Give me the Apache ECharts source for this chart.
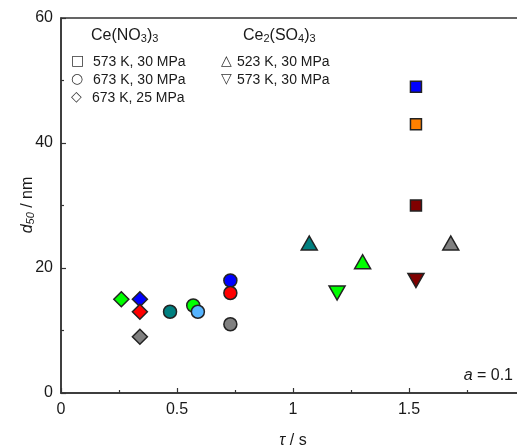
<!DOCTYPE html>
<html><head><meta charset="utf-8">
<script src="https://cdn.jsdelivr.net/npm/echarts@6/dist/echarts.min.js"></script>
<style>html,body{margin:0;padding:0;background:#fff}#c{width:517px;height:447px}</style>
</head><body><div id="c"></div>
<script>
// ---- data ----
var xTicks = [0, 0.5, 1, 1.5];
var yTicks = [0, 20, 40, 60];
// Ce(NO3)3 573 K, 30 MPa (squares)
var sqX = [1.53, 1.53, 1.53];
var sqY = [49, 43, 30];
// Ce(NO3)3 673 K, 30 MPa (circles)
var ciX = [0.73, 0.73, 0.73, 0.47, 0.57, 0.59];
var ciY = [18, 16, 11, 13, 14, 13];
// Ce(NO3)3 673 K, 25 MPa (diamonds)
var diX = [0.26, 0.34, 0.34, 0.34];
var diY = [15, 15, 13, 9];
// Ce2(SO4)3 523 K, 30 MPa (up triangles)
var upX = [1.07, 1.30, 1.68];
var upY = [24, 21, 24];
// Ce2(SO4)3 573 K, 30 MPa (down triangles)
var dnX = [1.53, 1.19];
var dnY = [18, 16];
// ---- colours ----
var sqC = ['#0000ff', '#ff8000', '#800000'];
var ciC = ['#0000ff', '#ff0000', '#808080', '#008080', '#00ff00', '#55b4ff'];
var diC = ['#00ff00', '#0000ff', '#ff0000', '#808080'];
var upC = ['#008080', '#00ff00', '#808080'];
var dnC = ['#800000', '#00ff00'];

function pts(xs, ys, cs) {
  return xs.map(function (x, i) { return { value: [x, ys[i]], itemStyle: { color: cs[i] } }; });
}
var FONT = '"Liberation Sans", Arial, sans-serif';
var axisCol = '#333';
var txtCol = '#1a1a1a';
function sc(name, symbol, size, data, rot) {
  return { name: name, type: 'scatter', symbol: symbol, symbolSize: size, symbolRotate: rot || 0,
    data: data, itemStyle: { borderColor: '#222', borderWidth: 1.5, opacity: 1 }, emphasis: { disabled: true }, z: 3 };
}
var richSub = {
  n: { fontSize: 16, fontFamily: FONT, lineHeight: 20, verticalAlign: 'bottom', color: txtCol, fill: txtCol },
  i: { fontSize: 16, fontFamily: FONT, fontStyle: 'italic', lineHeight: 20, verticalAlign: 'bottom', color: txtCol, fill: txtCol },
  s: { fontSize: 11, fontFamily: FONT, lineHeight: 10, verticalAlign: 'bottom', color: txtCol, fill: txtCol },
  si: { fontSize: 11, fontFamily: FONT, fontStyle: 'italic', lineHeight: 10, verticalAlign: 'bottom', color: txtCol, fill: txtCol }
};
var chart = echarts.init(document.getElementById('c'), null, { renderer: 'canvas' });
chart.setOption({
  animation: false,
  textStyle: { fontFamily: FONT },
  grid: { left: 61, top: 18, bottom: 54, right: -8, show: true, borderColor: axisCol, borderWidth: 1.5,
    containLabel: false, outerBoundsMode: 'none' },
  xAxis: {
    type: 'value', min: 0, max: 2, interval: 0.5,
    axisLine: { show: true, onZero: false, lineStyle: { color: axisCol, width: 1.5 } },
    axisTick: { inside: true, length: 5, lineStyle: { color: axisCol, width: 1.2 } },
    minorTick: { show: true, splitNumber: 2, length: 3, lineStyle: { color: axisCol, width: 1.2 } },
    splitLine: { show: false },
    axisLabel: { fontSize: 16, color: txtCol, margin: 9, fontFamily: FONT, showMaxLabel: false,
      formatter: function (v) { return xTicks.indexOf(v) >= 0 ? String(v) : ''; } },
    name: '{i|τ}{n| / s}', nameLocation: 'middle', nameGap: 36,
    nameTextStyle: { fontSize: 16, color: txtCol, fontFamily: FONT, rich: richSub }
  },
  yAxis: {
    type: 'value', min: 0, max: 60, interval: 20,
    axisLine: { show: true, lineStyle: { color: axisCol, width: 1.5 } },
    axisTick: { inside: true, length: 5, lineStyle: { color: axisCol, width: 1.2 } },
    minorTick: { show: true, splitNumber: 2, length: 3, lineStyle: { color: axisCol, width: 1.2 } },
    splitLine: { show: false },
    axisLabel: { fontSize: 16, color: txtCol, margin: 8, fontFamily: FONT,
      formatter: function (v) { return yTicks.indexOf(v) >= 0 ? String(v) : ''; } }
  },
  series: [
    sc('sq', 'rect', 11, pts(sqX, sqY, sqC)),
    sc('ci', 'circle', 13, pts(ciX, ciY, ciC)),
    sc('di', 'diamond', 15, pts(diX, diY, diC)),
    sc('up', 'triangle', [16, 14], pts(upX, upY, upC)),
    sc('dn', 'triangle', [16, 14], pts(dnX, dnY, dnC), 180)
  ],
  graphic: (function () {
    var els = [];
    function t(x, y, txt) {
      els.push({ type: 'text', left: x, top: y, silent: true,
        style: { text: txt, fontSize: 14, fontFamily: FONT, fill: txtCol } });
    }
    function sym(x, y, g) {
      els.push({ type: 'text', left: x, top: y, silent: true,
        style: { text: g, fontSize: 14, fontFamily: '"DejaVu Sans", sans-serif', fill: '#333' } });
    }
    els.push({ type: 'text', left: 91, top: 28, silent: true, style: { text: '{n|Ce(NO}{s|3}{n|)}{s|3}', rich: richSub } });
    els.push({ type: 'text', left: 243, top: 28, silent: true, style: { text: '{n|Ce}{s|2}{n|(SO}{s|4}{n|)}{s|3}', rich: richSub } });
    sym(71, 54, '□'); t(93, 55, '573 K, 30 MPa');
    sym(71, 72, '○'); t(93, 73, '673 K, 30 MPa');
    sym(71, 90, '◇'); t(92, 91, '673 K, 25 MPa');
    sym(221, 54, '△'); t(237, 55, '523 K, 30 MPa');
    sym(221, 72, '▽'); t(237, 73, '573 K, 30 MPa');
    els.push({ type: 'text', right: 4, top: 368, silent: true,
      style: { text: '{i|a}{n| = 0.1}', rich: richSub } });
    els.push({ type: 'text', x: 26, y: 205, rotation: Math.PI / 2, silent: true,
      style: { text: '{i|d}{si|50}{n| / nm}', rich: richSub, align: 'center', verticalAlign: 'middle' } });
    return els;
  })()
});
</script></body></html>
